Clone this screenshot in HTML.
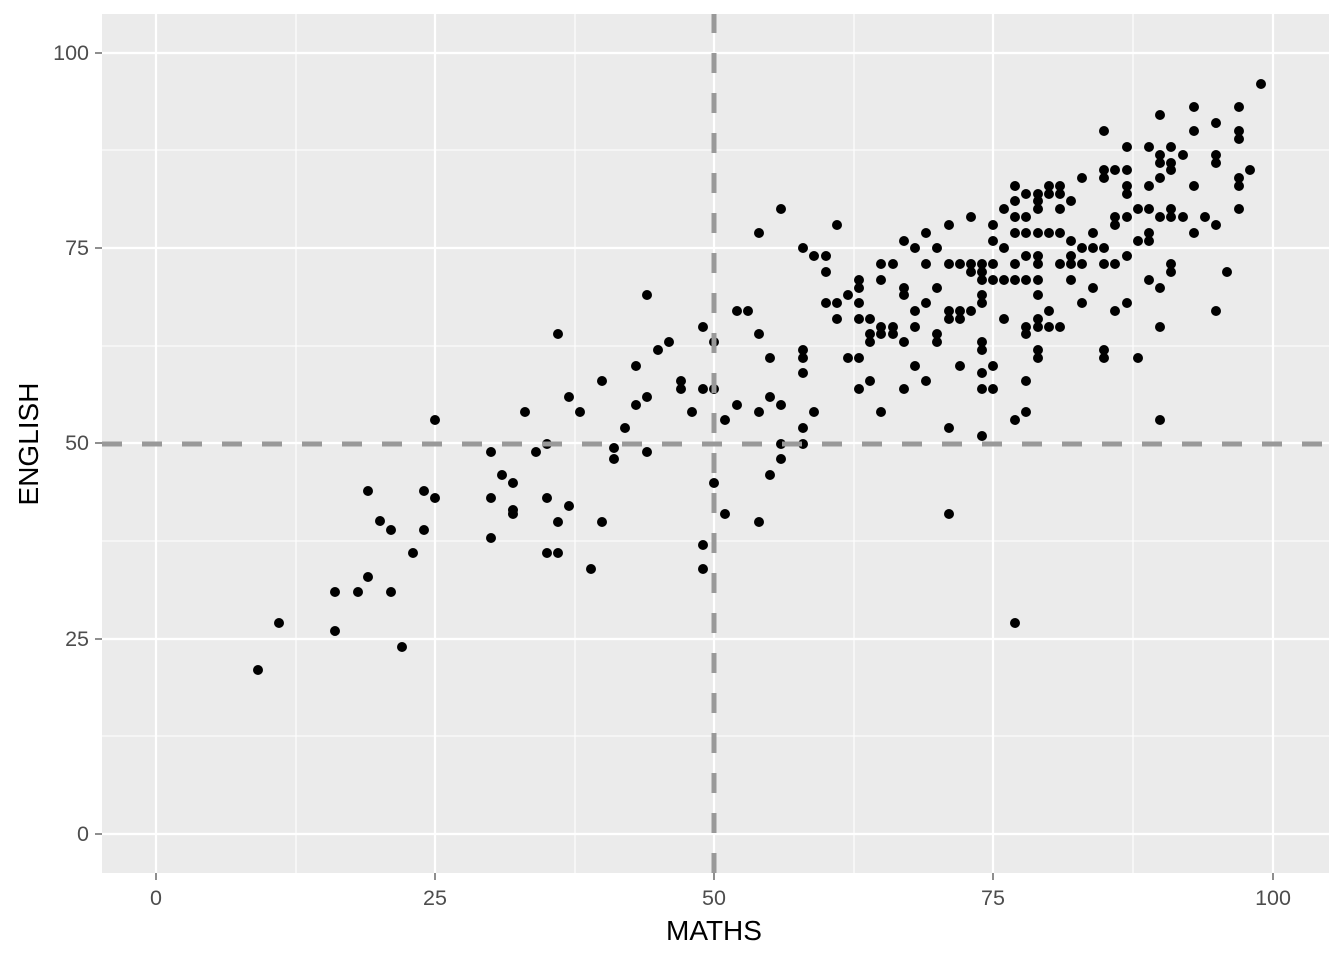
<!DOCTYPE html>
<html><head><meta charset="utf-8"><style>
html,body{margin:0;padding:0;background:#fff;}
svg{display:block;font-family:"Liberation Sans",Arial,sans-serif;}
</style></head><body>
<svg id="s" width="1344" height="960" xmlns="http://www.w3.org/2000/svg">
<rect x="102" y="14" width="1227" height="859" fill="#ebebeb"/>
<g stroke="#fff" stroke-width="1.1">
<line x1="296" y1="14" x2="296" y2="873"/><line x1="575" y1="14" x2="575" y2="873"/><line x1="854" y1="14" x2="854" y2="873"/><line x1="1133" y1="14" x2="1133" y2="873"/>
<line x1="102" y1="736" x2="1329" y2="736"/><line x1="102" y1="541" x2="1329" y2="541"/><line x1="102" y1="346" x2="1329" y2="346"/><line x1="102" y1="150" x2="1329" y2="150"/>
</g>
<g stroke="#fff" stroke-width="2.2">
<line x1="156" y1="14" x2="156" y2="873"/><line x1="435" y1="14" x2="435" y2="873"/><line x1="714" y1="14" x2="714" y2="873"/><line x1="993" y1="14" x2="993" y2="873"/><line x1="1273" y1="14" x2="1273" y2="873"/>
<line x1="102" y1="834" x2="1329" y2="834"/><line x1="102" y1="639" x2="1329" y2="639"/><line x1="102" y1="443" x2="1329" y2="443"/><line x1="102" y1="248" x2="1329" y2="248"/><line x1="102" y1="53" x2="1329" y2="53"/>
</g>
<g id="pts" fill="#000"></g>
<g stroke="#999" stroke-width="5" stroke-dasharray="20,20">
<line x1="714" y1="873" x2="714" y2="14"/>
<line x1="102" y1="444" x2="1329" y2="444"/>
</g>
<g stroke="#333" stroke-width="1.1">
<line x1="156" y1="873" x2="156" y2="880"/><line x1="435" y1="873" x2="435" y2="880"/><line x1="714" y1="873" x2="714" y2="880"/><line x1="993" y1="873" x2="993" y2="880"/><line x1="1273" y1="873" x2="1273" y2="880"/>
<line x1="95" y1="834" x2="102" y2="834"/><line x1="95" y1="639" x2="102" y2="639"/><line x1="95" y1="443" x2="102" y2="443"/><line x1="95" y1="248" x2="102" y2="248"/><line x1="95" y1="53" x2="102" y2="53"/>
</g>
<g fill="#4d4d4d" font-size="21.5" text-anchor="middle">
<text x="156" y="905">0</text><text x="435" y="905">25</text><text x="714" y="905">50</text><text x="993" y="905">75</text><text x="1273" y="905">100</text>
</g>
<g fill="#4d4d4d" font-size="21.5" text-anchor="end">
<text x="89" y="841">0</text><text x="89" y="646">25</text><text x="89" y="450">50</text><text x="89" y="255">75</text><text x="89" y="60">100</text>
</g>
<text x="714" y="940" font-size="28" text-anchor="middle" fill="#000">MATHS</text>
<text transform="translate(38,444) rotate(-90)" font-size="28" text-anchor="middle" fill="#000">ENGLISH</text>
</svg>
<script>
var p=[258,670,279,623,335,592,335,631,358,592,368,491,368,577,380,521,391,530,391,592,402,647,413,553,424,491,424,530,435,420,435,498,491,452,491,498,491,538,502,475,513,483,513,510,513,514,525,412,536,452,547,444,547,498,547,553,558,334,558,522,558,553,569,397,569,506,580,412,591,569,602,381,602,522,614,448,614,459,625,428,636,366,636,405,647,295,647,397,647,452,658,350,669,342,681,381,681,389,692,412,703,327,703,389,703,545,703,569,714,342,714,389,714,483,725,420,725,514,737,311,737,405,748,311,759,233,759,334,759,412,759,522,770,358,770,397,770,475,781,209,781,405,781,444,781,459,803,248,803,350,803,358,803,373,803,428,803,444,814,256,814,412,826,256,826,272,826,303,837,225,837,303,837,319,848,295,848,358,859,280,859,288,859,303,859,319,859,358,859,389,870,319,870,334,870,342,870,381,881,264,881,280,881,327,881,334,881,412,893,264,893,327,893,334,904,241,904,288,904,295,904,342,904,389,915,248,915,311,915,327,915,366,926,233,926,264,926,303,926,381,937,248,937,288,937,334,937,342,949,225,949,264,949,311,949,319,949,428,949,514,960,264,960,311,960,319,960,366,971,217,971,264,971,311,982,264,982,272,982,280,982,295,982,303,982,342,982,350,982,373,982,389,982,436,993,225,993,264,993,280,993,366,993,389,1004,209,1004,248,1004,319,1015,186,1015,201,1015,217,1015,233,1015,264,1015,280,1015,420,1026,194,1026,217,1026,233,1026,256,1026,280,1026,327,1026,334,1026,381,1026,412,1038,194,1038,201,1038,209,1038,233,1038,264,1038,280,1038,295,1038,319,1038,327,1038,350,1038,358,1049,186,1049,194,1049,233,1049,311,1049,327,1060,186,1060,194,1060,233,1060,264,1060,327,1071,201,1071,241,1071,256,1071,264,1071,280,1082,178,1082,248,1082,303,1093,248,1093,288,1104,131,1104,170,1104,178,1104,248,1104,264,1104,350,1104,358,1115,170,1115,217,1115,225,1115,311,1127,147,1127,170,1127,186,1127,194,1127,256,1127,303,1138,209,1138,241,1138,358,1149,147,1149,186,1149,233,1149,241,1149,280,1160,115,1160,155,1160,163,1160,178,1160,217,1160,288,1160,327,1160,420,1171,147,1171,163,1171,170,1171,209,1171,264,1171,272,1183,155,1183,217,1194,107,1194,131,1194,186,1194,233,1205,217,1216,123,1216,155,1216,163,1216,225,1216,311,1227,272,1239,107,1239,131,1239,139,1239,178,1239,186,1239,209,1250,170,1261,84,1015,623,1038,256,1060,209,993,241,971,272,1004,280,1082,264,1093,233,1115,264,1127,217,1149,209,1171,217];
var g=document.getElementById('pts'),h='';
for(var i=0;i<p.length;i+=2)h+='<circle cx="'+p[i]+'" cy="'+p[i+1]+'" r="5"/>';
g.innerHTML=h;
</script>
</body></html>
